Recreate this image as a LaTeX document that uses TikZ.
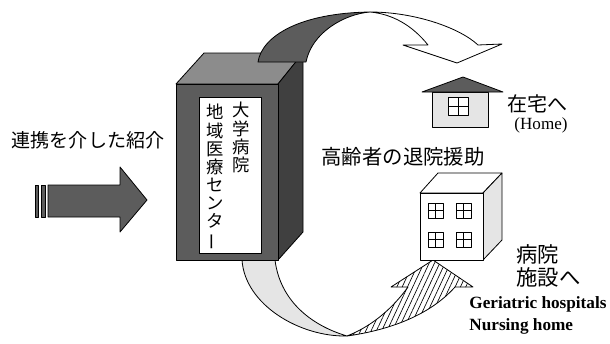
\documentclass[tikz,border=0pt]{standalone}
\usepackage{fontspec}
\setmainfont{Liberation Serif}
\newfontfamily\jpfont{Noto Sans CJK JP}
\usetikzlibrary{patterns.meta}

\definecolor{darkgrain}{gray}{0.36}
\definecolor{midgrain}{gray}{0.55}
\definecolor{sidegrain}{gray}{0.25}
\definecolor{lightgrain}{gray}{0.9}

\begin{document}
\begin{tikzpicture}[x=0.75pt,y=-0.75pt,line width=0.6pt,line join=round,
    darkfill/.style={draw, fill=darkgrain},
    lightfill/.style={draw, fill=lightgrain},
    hatched/.style={draw, pattern={Lines[angle=65,distance=3.6pt,line width=0.5pt]}},
    jp/.style={font=\jpfont\fontsize{15}{17}\selectfont, inner sep=0pt},
    vert/.style={font=\jpfont\fontsize{13}{13.6}\selectfont, align=center, inner sep=0pt},
    en/.style={font=\bfseries\fontsize{12.9}{16}\selectfont, inner sep=0pt},
    win/.style={draw, fill=white}]

    \useasboundingbox (0,0) rectangle (610,343);

    % incoming arrow
    \filldraw[fill=darkgrain] (35,185) rectangle (38,217);
    \filldraw[fill=darkgrain] (41,185) rectangle (45,217);
    \draw[darkfill] (48,185) -- (120,185) -- (120,167) -- (147,200) -- (120,232) -- (120,217) -- (48,217) -- cycle;
    \node[jp, font=\jpfont\fontsize{14.3}{17}\selectfont] (referral) at (88,140) {連携を介した紹介};

    % lower loop, below the block
    \draw[lightfill] (242,260) .. controls (245,305) and (300,337) .. (347,336)
        .. controls (310,325) and (280,300) .. (275,260) -- cycle;
    \draw[hatched] (347,336) .. controls (390,330) and (430,315) .. (455,287) -- (473,287) -- (433,260)
        -- (391,287) -- (408,287) .. controls (395,305) and (375,325) .. (347,336) -- cycle;

    % the block
    \draw[fill=midgrain] (176,84) -- (204,53) -- (303,53) -- (278,84) -- cycle;
    \draw[fill=sidegrain] (278,84) -- (303,53) -- (303,232) -- (278,260) -- cycle;
    \draw[darkfill] (176,84) rectangle (278,260);
    \draw[fill=white] (199,97) rectangle (261,253);
    \node[vert, anchor=north] (univ) at (241,102) {大\\学\\病\\院};
    \node[vert, anchor=north] (region) at (215,104) {地\\域\\医\\療\\セ\\ン\\タ\\\rotatebox[origin=c]{90}{ー}};

    % upper loop, over the block
    \draw[darkfill] (258,62) .. controls (262,36) and (300,13) .. (370,12)
        .. controls (345,14) and (312,32) .. (306,62) -- cycle;
    \draw[fill=white] (370,12) .. controls (415,12) and (460,28) .. (478,45) -- (502,44) -- (457,63)
        -- (403,45) -- (428,45) .. controls (412,25) and (392,14) .. (370,12) -- cycle;

    % home
    \draw[lightfill] (432,92) rectangle (488,127);
    \draw[darkfill] (422,92) -- (463,77) -- (503,92) -- cycle;
    \draw[win] (448,97) rectangle (468,115);
    \draw (458,97) -- (458,115) (448,106) -- (468,106);
    \node[jp, anchor=west] (home) at (507,104) {在宅へ};
    \node[font=\fontsize{12.8}{15}\selectfont, inner sep=0pt] (homeen) at (541,125) {(Home)};

    \node[jp, font=\jpfont\fontsize{15.3}{17}\selectfont] (support) at (403,157) {高齢者の退院援助};

    % hospital
    \draw[fill=white] (420,193) -- (438,173) -- (502,173) -- (483,193) -- cycle;
    \draw[lightfill] (483,193) -- (502,173) -- (502,240) -- (483,260) -- cycle;
    \draw[fill=white] (420,193) rectangle (483,260);
    \foreach \wx/\wy in {428/203, 456/203, 428/232, 456/232} {
        \draw[win] (\wx,\wy) rectangle ++(15,15);
        \draw (\wx+7.5,\wy) -- ++(0,15) (\wx,\wy+7.5) -- ++(15,0);
    }
    \node[jp, font=\jpfont\fontsize{16}{17}\selectfont, anchor=west] (hosp) at (516,254) {病院};
    \node[jp, font=\jpfont\fontsize{16}{17}\selectfont, anchor=west] (facility) at (516,277) {施設へ};
    \node[en, anchor=base west] (geri) at (469,308) {Geriatric hospitals};
    \node[en, anchor=base west] (nurs) at (469,330) {Nursing home};

\end{tikzpicture}
\end{document}
